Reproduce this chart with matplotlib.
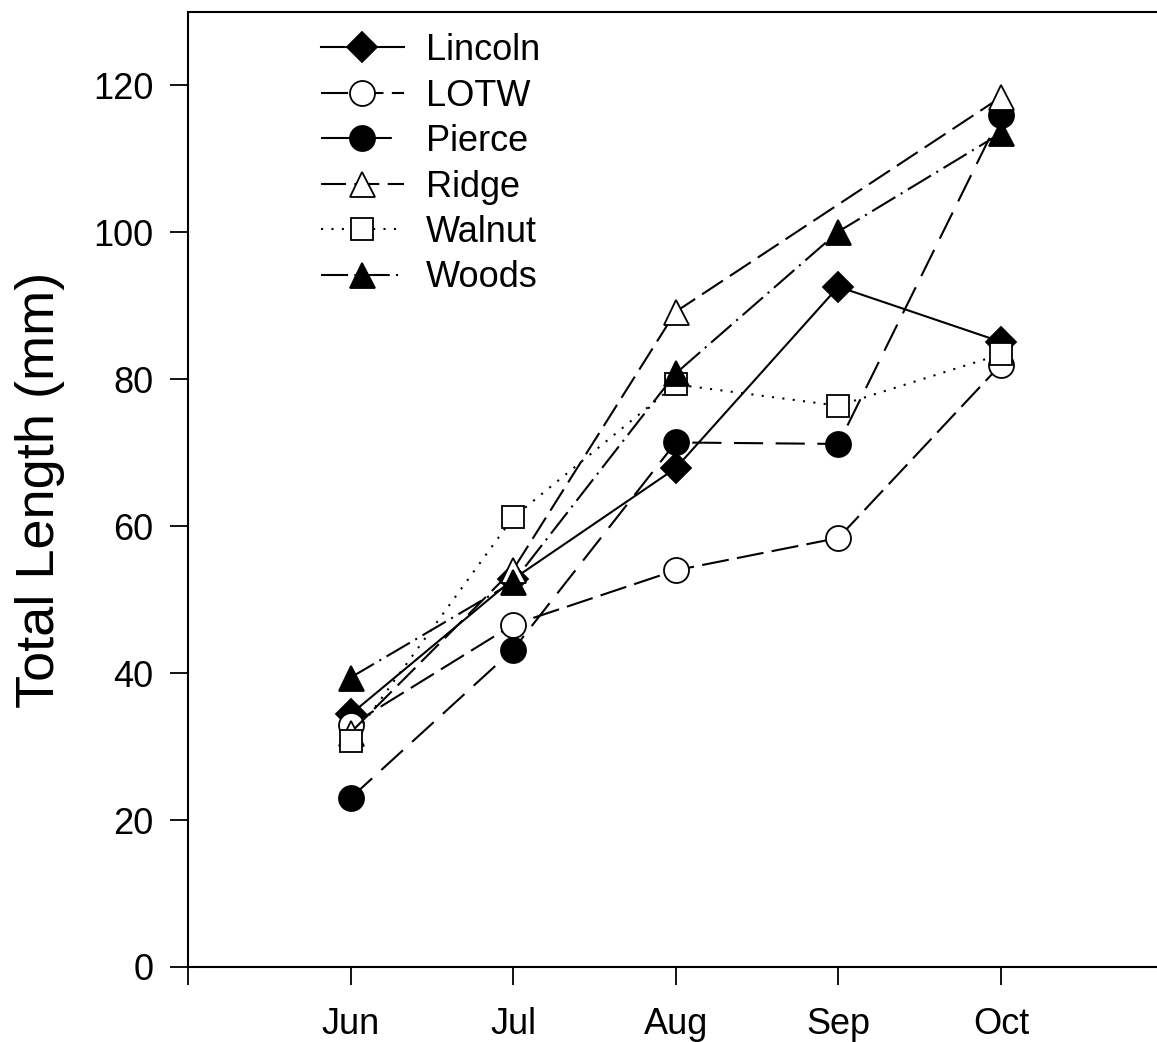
import numpy as np
import matplotlib
matplotlib.use("Agg")
import matplotlib.pyplot as plt

plt.rcParams['font.family'] = ['Liberation Sans', 'DejaVu Sans']

months = ['Jun', 'Jul', 'Aug', 'Sep', 'Oct']
x = np.arange(1, 6)

lincoln = [34.4, 52.8, 67.9, 92.6, 85.1]
lotw = [32.9, 46.6, 54.0, 58.4, 82.0]
pierce = [23.0, 43.2, 71.4, 71.2, 116.0]
ridge = [31.9, 54.1, 89.2, np.nan, 118.4]   # no Sep sample
walnut = [30.8, 61.2, 79.3, 76.4, 83.4]
woods = [39.4, 52.4, 80.8, 100.1, 113.5]

lw = 1.5
fig = plt.figure(figsize=(11.57, 10.42), dpi=100)
ax = fig.add_axes([0.1625, 0.072, 0.8375, 0.9165])

# name, values, marker, size, filled, dash pattern
series = [
    ('Lincoln', lincoln, 'D', 15, True, 'solid'),
    ('LOTW', lotw, 'o', 18, False, (0, (13, 4))),
    ('Pierce', pierce, 'o', 18, True, (0, (14, 6))),
    ('Ridge', ridge, '^', 18, False, (0, (12, 4))),
    ('Walnut', walnut, 's', 16, False, (0, (1, 4))),
    ('Woods', woods, '^', 18, True, (0, (13, 3, 1, 3))),
]

for name, vals, mk, ms, filled, ls in series:
    vals = np.array(vals, dtype=float)
    ok = ~np.isnan(vals)
    ax.plot(x[ok], vals[ok], color='black', lw=lw, linestyle=ls, marker=mk,
            markersize=ms, markerfacecolor='black' if filled else 'white',
            markeredgecolor='black', markeredgewidth=1.3, label=name)

ax.set_xlim(0, 5.96)
ax.set_ylim(0, 130)
ax.set_xticks([0, 1, 2, 3, 4, 5])
ax.set_xticklabels([''] + months)
ax.set_yticks([0, 20, 40, 60, 80, 100, 120])
ax.tick_params(direction='out', length=13, width=1.3, labelsize=26)
ax.tick_params(axis='y', pad=12)
ax.tick_params(axis='x', pad=16)
ax.spines['right'].set_visible(False)
for s in ['left', 'bottom', 'top']:
    ax.spines[s].set_linewidth(1.5)
ax.set_ylabel('Total Length (mm)', fontsize=39, labelpad=20)

ax.legend(loc='upper left', bbox_to_anchor=(0.122, 0.993), frameon=False,
          fontsize=26, handlelength=2.3, handletextpad=0.62, labelspacing=0.29,
          borderaxespad=0)

fig.savefig('out.png', dpi=100)
